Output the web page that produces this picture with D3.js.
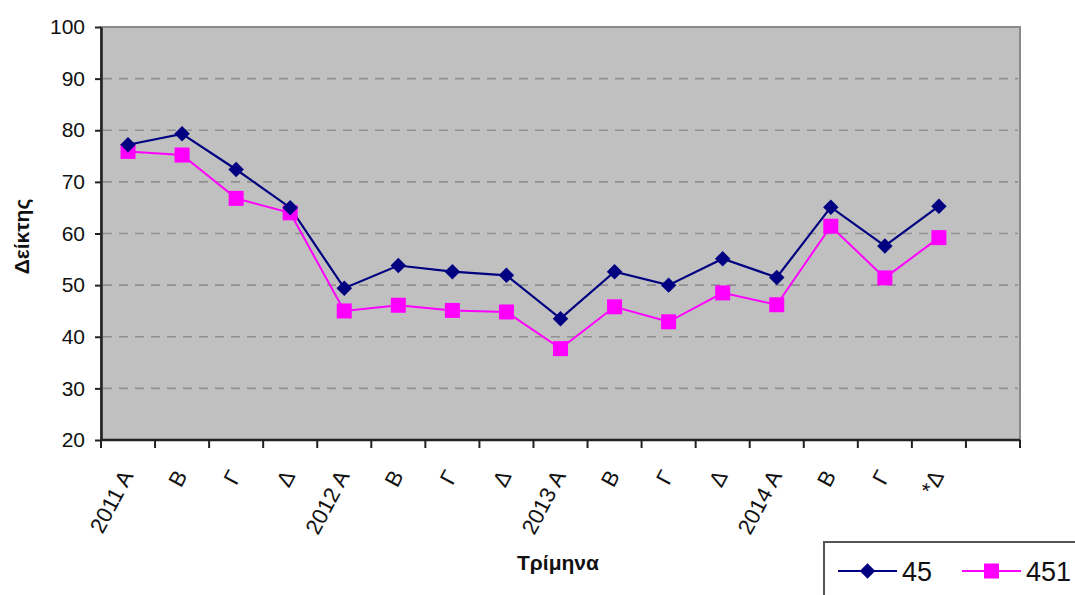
<!DOCTYPE html>
<html>
<head>
<meta charset="utf-8">
<script src="https://cdn.jsdelivr.net/npm/d3@7"></script>
<style>
  html, body { margin: 0; padding: 0; background: #fff; }
  svg { display: block; font-family: "Liberation Sans", Arial, sans-serif; }
</style>
</head>
<body>
<svg id="chart" width="1075" height="595"></svg>
<script>
// Quarters (the last slot on the axis is left empty)
const quarters = ["2011 A", "B", "Γ", "Δ", "2012 A", "B", "Γ", "Δ",
                  "2013 A", "B", "Γ", "Δ", "2014 A", "B", "Γ", "*Δ", ""];
const series45  = [77.2, 79.3, 72.4, 65.0, 49.4, 53.8, 52.6, 51.9,
                   43.5, 52.6, 50.0, 55.1, 51.5, 65.1, 57.6, 65.3];
const series451 = [75.9, 75.2, 66.8, 64.0, 45.0, 46.1, 45.1, 44.8,
                   37.7, 45.8, 42.9, 48.5, 46.2, 61.4, 51.4, 59.2];
const yTicks = [20, 30, 40, 50, 60, 70, 80, 90, 100];
const seriesNames = ["45", "451"];

const svg = d3.select("#chart");
const plot = { left: 101, right: 1020, top: 27, bottom: 440 };

const x = d3.scaleBand()
  .domain(d3.range(quarters.length))
  .range([plot.left, plot.right])
  .padding(0);
const y = d3.scaleLinear().domain([20, 100]).range([plot.bottom, plot.top]);

// plot background
svg.append("rect")
  .attr("x", plot.left).attr("y", plot.top)
  .attr("width", plot.right - plot.left).attr("height", plot.bottom - plot.top)
  .attr("fill", "#c0c0c0")
  .attr("stroke", "#8a8a8a").attr("stroke-width", 2);

// dashed horizontal gridlines
svg.append("g").selectAll("line")
  .data(yTicks.filter(t => t > 20 && t < 100))
  .join("line")
  .attr("x1", plot.left + 2).attr("x2", plot.right - 2)
  .attr("y1", d => y(d)).attr("y2", d => y(d))
  .attr("stroke", "#909090").attr("stroke-width", 1.6)
  .attr("stroke-dasharray", "9,7");

// y axis
const yAxis = svg.append("g")
  .attr("transform", `translate(${plot.left},0)`)
  .call(d3.axisLeft(y).tickValues(yTicks).tickSize(6).tickPadding(10).tickSizeOuter(0));
yAxis.select(".domain").attr("stroke", "#222").attr("stroke-width", 2.6);
yAxis.selectAll(".tick line").attr("stroke", "#222").attr("stroke-width", 2);
yAxis.selectAll("text")
  .attr("font-size", 21).attr("fill", "#111")
  .attr("font-family", "Liberation Sans, Arial, sans-serif");

// x axis: ticks at band boundaries, labels centred in bands
const xb = svg.append("g").attr("transform", `translate(0,${plot.bottom})`);
xb.append("line")
  .attr("x1", plot.left).attr("x2", plot.right)
  .attr("stroke", "#222").attr("stroke-width", 2.6);
xb.selectAll("line.tick")
  .data(d3.range(quarters.length + 1))
  .join("line").attr("class", "tick")
  .attr("x1", i => plot.left + i * x.bandwidth())
  .attr("x2", i => plot.left + i * x.bandwidth())
  .attr("y1", 0).attr("y2", 8)
  .attr("stroke", "#222").attr("stroke-width", 2);
xb.selectAll("text")
  .data(quarters)
  .join("text")
  .attr("transform", (d, i) => `translate(${x(i) + x.bandwidth() / 2 - 1},${32}) rotate(-62)`)
  .attr("text-anchor", "end")
  .attr("dy", "0.35em")
  .attr("font-size", 22)
  .attr("fill", "#111")
  .text(d => d);

// axis titles
svg.append("text")
  .attr("transform", `translate(29,${(plot.top + plot.bottom) / 2 + 3}) rotate(-90)`)
  .attr("text-anchor", "middle")
  .attr("font-size", 21).attr("font-weight", "bold").attr("fill", "#111")
  .text("Δείκτης");
svg.append("text")
  .attr("x", 558).attr("y", 570)
  .attr("text-anchor", "middle")
  .attr("font-size", 21).attr("font-weight", "bold").attr("fill", "#111")
  .text("Τρίμηνα");

// lines and markers
const cx = i => x(i) + x.bandwidth() / 2;
const line = d3.line().x((d, i) => cx(i)).y(d => y(d));

svg.append("path").datum(series451)
  .attr("d", line).attr("fill", "none")
  .attr("stroke", "#ff00ff").attr("stroke-width", 2);
svg.append("path").datum(series45)
  .attr("d", line).attr("fill", "none")
  .attr("stroke", "#000080").attr("stroke-width", 2.2);

const diamond = d3.symbol().type(d3.symbolSquare).size(120);
const square = d3.symbol().type(d3.symbolSquare).size(225);

svg.append("g").selectAll("path")
  .data(series451)
  .join("path")
  .attr("d", square)
  .attr("transform", (d, i) => `translate(${cx(i)},${y(d)})`)
  .attr("fill", "#ff00ff");
svg.append("g").selectAll("path")
  .data(series45)
  .join("path")
  .attr("d", diamond)
  .attr("transform", (d, i) => `translate(${cx(i)},${y(d)}) rotate(45)`)
  .attr("fill", "#000080");

// legend
const lg = svg.append("g");
lg.append("rect")
  .attr("x", 824).attr("y", 542).attr("width", 270).attr("height", 80)
  .attr("fill", "#fff").attr("stroke", "#555").attr("stroke-width", 2);
const legendItems = [
  { name: seriesNames[0], color: "#000080", sym: diamond, rot: 45, x0: 838 },
  { name: seriesNames[1], color: "#ff00ff", sym: square, rot: 0, x0: 962 }
];
legendItems.forEach(it => {
  lg.append("line")
    .attr("x1", it.x0).attr("x2", it.x0 + 59).attr("y1", 571).attr("y2", 571)
    .attr("stroke", it.color).attr("stroke-width", 2.2);
  lg.append("path")
    .attr("d", it.sym)
    .attr("transform", `translate(${it.x0 + 29.5},571) rotate(${it.rot})`)
    .attr("fill", it.color);
  lg.append("text")
    .attr("x", it.x0 + 64).attr("y", 581)
    .attr("font-size", 27).attr("fill", "#111")
    .text(it.name);
});
</script>
</body>
</html>
